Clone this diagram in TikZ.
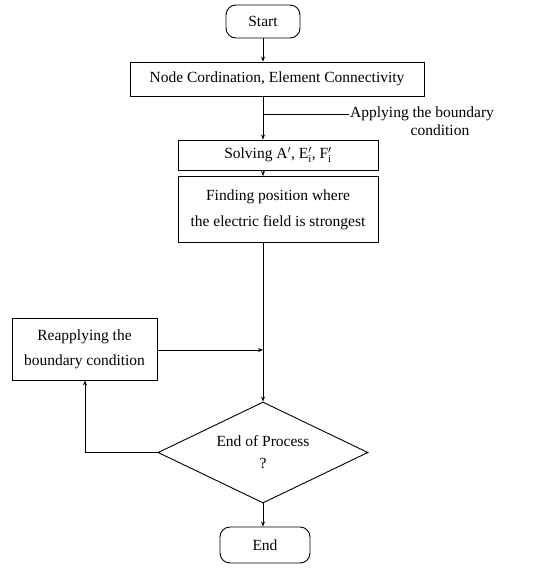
\documentclass[tikz,border=0pt]{standalone}
\usepackage{fontspec}
\setmainfont{Liberation Serif}
\usetikzlibrary{shapes.geometric,arrows.meta}
\begin{document}
\begin{tikzpicture}[x=1pt,y=-1pt,
  box/.style={draw,line width=0.9pt,inner sep=0pt,font=\fontsize{15.5}{26}\selectfont},
  term/.style={draw,line width=0.9pt,rounded corners=10pt,inner sep=0pt,font=\fontsize{15.5}{18}\selectfont},
  dec/.style={draw,line width=0.9pt,diamond,inner sep=0pt,font=\fontsize{15.5}{22}\selectfont},
  arr/.style={line width=0.9pt,-{Stealth[length=5pt,width=4pt]}},
  ln/.style={line width=0.9pt},
  lbl/.style={inner sep=0pt,font=\fontsize{15.5}{18}\selectfont}]
\useasboundingbox (0,0) rectangle (534,575);
\node[term,minimum width=74pt,minimum height=33pt] (start) at (263,21.5) {Start};
\node[box,minimum width=294pt,minimum height=34pt] (nc) at (277,79) {Node Cordination, Element Connectivity};
\node[box,minimum width=200pt,minimum height=30pt] (solve) at (278,155) {Solving A$^{\prime}$, E$_{\mathrm{i}}^{\prime}$, F$_{\mathrm{i}}^{\prime}$};
\node[box,minimum width=200pt,minimum height=66pt,align=center] (find) at (278,209.5) {Finding position where\\the electric field is strongest};
\node[box,minimum width=145pt,minimum height=62pt,align=center,font=\fontsize{15.5}{25}\selectfont] (reap) at (84.5,349) {Reapplying the\\boundary condition};
\node[dec,minimum width=210pt,minimum height=101pt,align=center,aspect=2.08] (endp) at (263,452.5) {End of Process\\?};
\node[term,minimum width=90pt,minimum height=36pt] (fin) at (265,545) {End};
\coordinate (br) at (263,114);
\coordinate (brend) at (349,114);
\coordinate (mj) at (263,350);
\coordinate (lc) at (85,452.5);
\node[lbl,anchor=west] (aptext) at (350,114) {Applying the boundary};
\node[lbl,anchor=north] (aptext2) at (440,125) {condition};
\draw[arr] (start.south) -- (nc.north -| start.south);
\draw[arr] (nc.south -| start) -- (solve.north -| start);
\draw[ln] (br) -- (brend);
\draw[arr] (solve.south -| start) -- (find.north -| start);
\draw[arr] (find.south -| start) -- (endp.north);
\draw[arr] (reap.east |- mj) -- (mj);
\draw[arr] (endp.west) -- (lc) -- (reap.south -| lc);
\draw[arr] (endp.south) -- (fin.north -| endp.south);
\end{tikzpicture}
\end{document}
